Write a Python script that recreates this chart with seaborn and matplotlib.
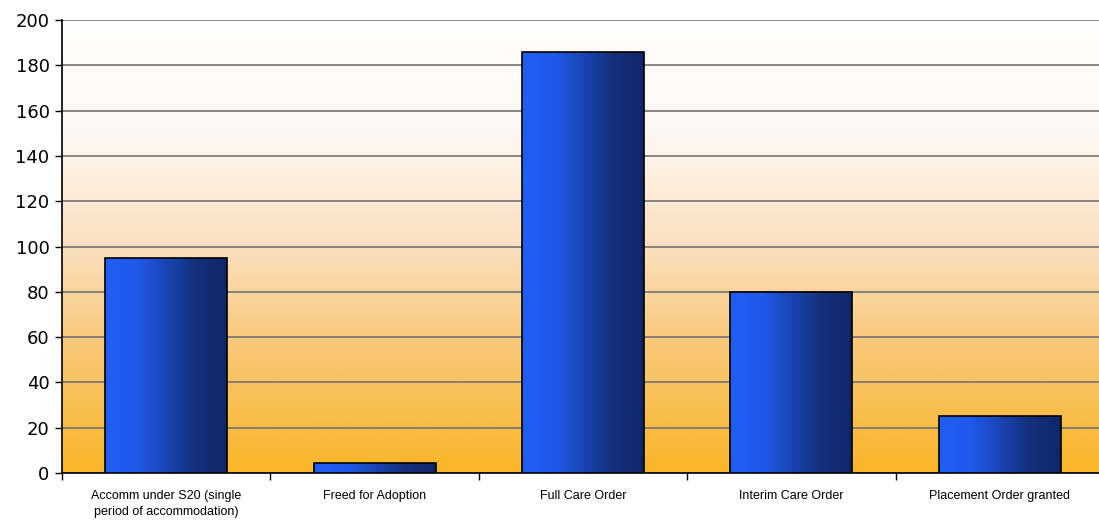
import matplotlib
matplotlib.use("Agg")
import matplotlib.pyplot as plt
import seaborn as sns
import numpy as np
from matplotlib.colors import LinearSegmentedColormap

categories = ["Accomm under S20 (single\nperiod of accommodation)", "Freed for Adoption",
              "Full Care Order", "Interim Care Order", "Placement Order granted"]
values = [95, 4.5, 186, 80, 25]
y_ticks = [0, 20, 40, 60, 80, 100, 120, 140, 160, 180, 200]

sns.set_theme(style="white")
plt.rcParams['font.family'] = ['DejaVu Sans']

fig = plt.figure(figsize=(10.99, 5.21), dpi=100)
ax = fig.add_axes([62 / 1099, 1 - 473 / 521, 1042 / 1099, (473 - 20) / 521])

sns.barplot(x=list(range(len(values))), y=values, ax=ax, width=0.585,
            color="#2060F8", edgecolor="black", linewidth=1.2, zorder=3)

# background gradient: white at top to orange at bottom
bg_cmap = LinearSegmentedColormap.from_list(
    "bg", ["#F9B628", "#F9C56E", "#FBE0BE", "#FEF8F2", "#FFFFFF"])
grad = np.linspace(0, 1, 256).reshape(-1, 1)
ax.imshow(grad, cmap=bg_cmap, aspect="auto", origin="lower",
          extent=[-0.5, len(values) - 0.5, 0, 200], zorder=0)

# bar gradient: bright blue left to navy right
bar_cmap = LinearSegmentedColormap.from_list(
    "bar", ["#1F5FF7", "#2059EC", "#1A45B5", "#13307A", "#10266A"])
hgrad = np.linspace(0, 1, 256).reshape(1, -1)
for p in ax.patches:
    x0, y0 = p.get_x(), p.get_y()
    w, h = p.get_width(), p.get_height()
    im = ax.imshow(hgrad, cmap=bar_cmap, aspect="auto",
                   extent=[x0, x0 + w, y0, y0 + h], zorder=3)
    im.set_clip_path(p)
    p.set_facecolor("none")
    p.set_zorder(4)

ax.set_xlim(-0.5, len(values) - 0.5)
ax.set_ylim(0, 200)
ax.set_yticks(y_ticks)
ax.yaxis.grid(True, color="#737373", linewidth=1.2, zorder=1)
for gl in ax.get_ygridlines():
    gl.set_zorder(1)

ax.set_xticks(range(len(values)))
ax.set_xticklabels(categories, fontsize=9, family="Liberation Sans", linespacing=1.5)
ax.set_xticks(np.arange(-0.5, len(values), 1), minor=True)
ax.tick_params(axis="x", which="major", length=0, pad=12, labelcolor="black")
ax.tick_params(axis="x", which="minor", length=5, width=1, color="black", direction="out", bottom=True)
ax.tick_params(axis="y", length=5, width=1, color="black", direction="out", left=True,
               labelsize=13, pad=4, labelcolor="black")

ax.spines["top"].set_visible(False)
ax.spines["right"].set_visible(False)
ax.spines["left"].set_color("black")
ax.spines["bottom"].set_color("black")
ax.spines["left"].set_linewidth(1.2)
ax.spines["bottom"].set_linewidth(1.2)
ax.set_xlabel("")
ax.set_ylabel("")

fig.savefig("out.png", dpi=100)
